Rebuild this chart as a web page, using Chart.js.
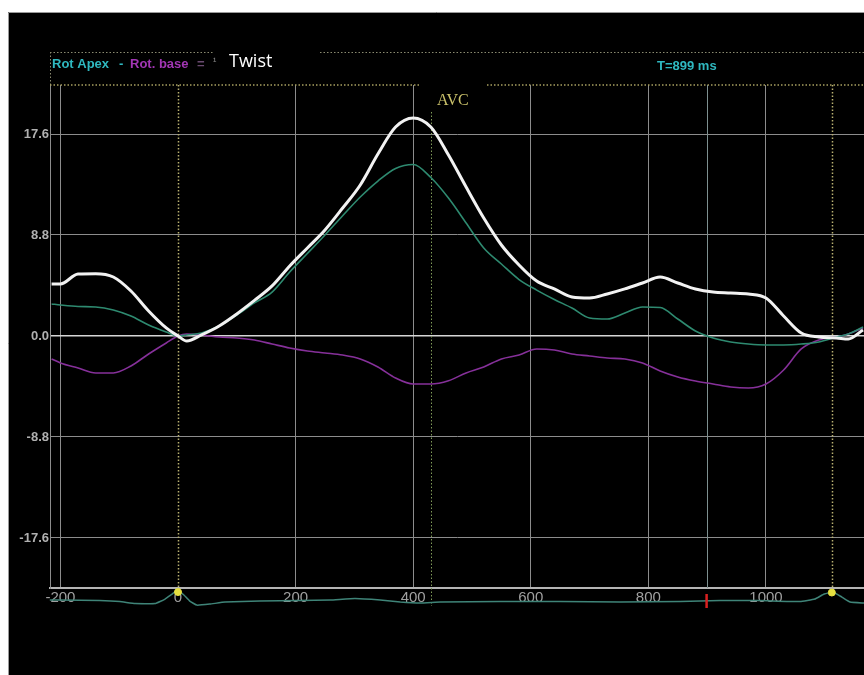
<!DOCTYPE html>
<html><head><meta charset="utf-8">
<style>html,body{margin:0;padding:0;background:#fff;}canvas{display:block;}</style>
<script src="https://cdn.jsdelivr.net/npm/chart.js@4.4.1/dist/chart.umd.min.js"></script>
</head><body>
<canvas id="c" width="864" height="675"></canvas>
<script>
// ---- data ----
const timeMs = [-215,-200,-170,-140,-110,-80,-50,-20,0,15,40,70,100,130,160,190,220,250,280,310,340,370,400,430,460,490,520,550,580,610,640,670,700,730,760,790,820,850,880,910,940,970,1000,1030,1060,1090,1120,1140,1165];
const twist = [4.53,4.53,5.40,5.43,5.14,3.92,2.18,0.70,0,-0.44,0.09,0.87,1.92,3.10,4.36,6.10,7.67,9.24,11.15,13.16,15.86,18.21,19.00,18.21,15.77,12.98,10.28,7.93,6.19,4.79,4.10,3.40,3.31,3.66,4.10,4.62,5.14,4.62,4.10,3.83,3.75,3.66,3.31,1.74,0.26,-0.09,-0.17,-0.26,0.52];
const rotApex = [2.79,2.70,2.57,2.53,2.27,1.74,0.96,0.35,0,0.09,0.26,0.87,1.83,2.88,3.83,5.58,7.19,8.80,10.48,12.11,13.50,14.60,14.94,13.81,12.02,9.85,7.67,6.27,4.92,4.00,3.18,2.44,1.57,1.48,2.00,2.53,2.48,1.48,0.44,-0.17,-0.52,-0.70,-0.78,-0.78,-0.70,-0.52,-0.09,0.17,0.78];
const rotBase = [-2.00,-2.35,-2.79,-3.22,-3.22,-2.61,-1.57,-0.61,0,0.17,0.09,-0.09,-0.17,-0.35,-0.70,-1.05,-1.31,-1.48,-1.66,-2.00,-2.70,-3.66,-4.18,-4.18,-3.90,-3.22,-2.70,-2.00,-1.66,-1.13,-1.22,-1.57,-1.74,-1.92,-2.00,-2.35,-3.05,-3.57,-3.92,-4.18,-4.44,-4.53,-4.18,-2.96,-1.13,-0.35,-0.09,0.17,0.70];
const ecgTime = [-218,-200,-133,-99,-73,-39,-22,-10,0,10,20,32,54,80,139,207,259,301,344,378,412,446,548,650,752,854,888,922,990,1058,1083,1099,1114,1129,1143,1167];
const ecgSignal = [0.2,0.2,0.15,0.05,-0.15,-0.15,0.3,0.8,1.2,0.7,0.1,-0.3,-0.2,0.0,0.1,0.15,0.2,0.35,0.2,0.0,-0.1,0.0,0.05,0.05,0.0,0.05,0.1,0.15,0.15,0.05,0.3,0.8,1.0,0.5,0.0,-0.1];
const xTickValues = [-200,0,200,400,600,800,1000];
const yTickValues = [-17.6,-8.8,0,8.8,17.6];
const rWaveMs = [0,1112];
const rWaveAmp = [1.0,0.95];
const avcMs = 430;
const tMarkMs = 899;

const pts = (xs, ys) => xs.map((x,i)=>({x:x, y:ys[i]}));

const deco = {
  id:'deco',
  beforeDraw(chart){
    const c = chart.ctx;
    c.save();
    c.fillStyle='#fff'; c.fillRect(0,0,chart.width,chart.height);
    c.fillStyle='#000'; c.fillRect(8,12,chart.width-8,chart.height-12);
    c.strokeStyle='#9a9a9a'; c.lineWidth=1;
    c.beginPath(); c.moveTo(8.5,chart.height); c.lineTo(8.5,12.5); c.lineTo(chart.width,12.5); c.stroke();
    c.restore();
  },
  beforeDatasetsDraw(chart){
    const c = chart.ctx, a = chart.chartArea, xs = chart.scales.x;
    c.save();
    c.lineWidth=1;
    c.setLineDash([1.5,2]);
    c.strokeStyle='#8a8a70';
    c.beginPath(); c.moveTo(a.left,52.5); c.lineTo(213,52.5); c.moveTo(320,52.5); c.lineTo(chart.width,52.5); c.stroke();
    c.beginPath(); c.moveTo(a.left+0.5,52); c.lineTo(a.left+0.5,a.top); c.stroke();
    c.strokeStyle='#a8a060'; c.lineWidth=1.5;
    c.beginPath(); c.moveTo(a.left,a.top); c.lineTo(420,a.top); c.moveTo(487,a.top); c.lineTo(chart.width,a.top); c.stroke();
    c.lineWidth=1.5;
    c.strokeStyle='#b8b070';
    rWaveMs.forEach(v=>{ const px=Math.round(xs.getPixelForValue(v))+0.5;
      c.beginPath(); c.moveTo(px,a.top); c.lineTo(px,a.bottom+4); c.stroke(); });
    c.strokeStyle='#7f9a58'; c.lineWidth=1;
    const ax=Math.round(xs.getPixelForValue(avcMs))+0.5;
    c.beginPath(); c.moveTo(ax,112); c.lineTo(ax,a.bottom+18); c.stroke();
    c.setLineDash([]);
    c.strokeStyle='#7e9090'; c.lineWidth=1;
    const tx=Math.round(xs.getPixelForValue(tMarkMs))+0.5;
    c.beginPath(); c.moveTo(tx,a.top); c.lineTo(tx,a.bottom); c.stroke();
    c.restore();
  },
  afterDraw(chart){
    const c = chart.ctx, a = chart.chartArea, xs = chart.scales.x;
    c.save();
    const tx=xs.getPixelForValue(tMarkMs);
    c.strokeStyle='#d82020'; c.lineWidth=2.5;
    c.beginPath(); c.moveTo(tx,a.bottom+6); c.lineTo(tx,a.bottom+20); c.stroke();
    c.textBaseline='middle';
    c.font='bold 13px "Liberation Sans", Arial, sans-serif';
    c.fillStyle='#2fb8c0'; c.fillText('Rot Apex',52,64);
    c.fillText('-',119,64);
    c.fillStyle='#a236b4'; c.fillText('Rot. base',130,64);
    c.fillStyle='#6a4a70'; c.fillText('=',197,64);
    c.fillStyle='#9a9a9a'; c.font='10px "Liberation Sans", Arial, sans-serif'; c.fillText('\u00b9',213,61);
    c.fillStyle='#ffffff'; c.font='18px "Open Sans", sans-serif'; c.fillText('Twist',229,62);
    c.fillStyle='#2fb8c0'; c.font='bold 13px "Liberation Sans", Arial, sans-serif'; c.fillText('T=899 ms',657,66);
    c.fillStyle='#c9c06a'; c.font='16px "Liberation Serif", serif'; c.textAlign='center';
    c.fillText('AVC',xs.getPixelForValue(avcMs)+22,101);
    c.restore();
  }
};

new Chart(document.getElementById('c'), {
  type:'line',
  data:{datasets:[
    {label:'Twist', data:pts(timeMs,twist), borderColor:'#f2f2f2', borderWidth:3, pointRadius:0, cubicInterpolationMode:'monotone', order:1},
    {label:'Rot Apex', data:pts(timeMs,rotApex), borderColor:'#2e8a70', borderWidth:1.6, pointRadius:0, cubicInterpolationMode:'monotone', order:2},
    {label:'Rot. base', data:pts(timeMs,rotBase), borderColor:'#86309a', borderWidth:1.6, pointRadius:0, cubicInterpolationMode:'monotone', order:3},
    {label:'ECG', data:pts(ecgTime,ecgSignal), yAxisID:'ecg', borderColor:'#3f8478', borderWidth:1.5, pointRadius:0, tension:0.1, clip:false, order:4},
    {label:'R', type:'scatter', data:pts(rWaveMs,rWaveAmp), yAxisID:'ecg', pointRadius:3.5, pointBackgroundColor:'#e6e040', pointBorderColor:'#e6e040', showLine:false, clip:false, order:0}
  ]},
  options:{
    responsive:false, animation:false, devicePixelRatio:1,
    layout:{autoPadding:false, padding:{top:85,left:0,right:0,bottom:0}},
    plugins:{legend:{display:false}, tooltip:{enabled:false}},
    scales:{
      x:{type:'linear', min:-217.7, max:1166.7,
        afterBuildTicks:s=>{s.ticks=xTickValues.map(v=>({value:v}));},
        afterFit:s=>{s.height=87; s.paddingLeft=0; s.paddingRight=0;},
        grid:{color:ctx=>(ctx.tick && ctx.tick.value===0)?'rgba(0,0,0,0)':'#8c8c8c', drawTicks:false, lineWidth:1},
        border:{display:true, color:'#b4b4b4', width:2},
        ticks:{color:'#a0a0a0', font:{family:'"Liberation Sans", Arial, sans-serif', size:15}, padding:1, maxRotation:0, autoSkip:false, callback:v=>String(v)}
      },
      y:{type:'linear', min:-21.96, max:21.87,
        afterBuildTicks:s=>{s.ticks=yTickValues.map(v=>({value:v}));},
        afterFit:s=>{s.width=50; s.paddingTop=0; s.paddingBottom=0;},
        grid:{color:ctx=>(ctx.tick && ctx.tick.value===0)?'#d6d6d6':'#8c8c8c', drawTicks:false, lineWidth:ctx=>(ctx.tick && ctx.tick.value===0)?1.5:1},
        border:{display:true, color:'#8c8c8c', width:1},
        ticks:{color:'#b0b0b0', font:{family:'"Liberation Sans", Arial, sans-serif', size:13, weight:'bold'}, padding:1, autoSkip:false, callback:v=>Number(v).toFixed(1)}
      },
      ecg:{type:'linear', display:false, min:1.4, max:51.4}
    }
  },
  plugins:[deco]
});
</script>
</body></html>
